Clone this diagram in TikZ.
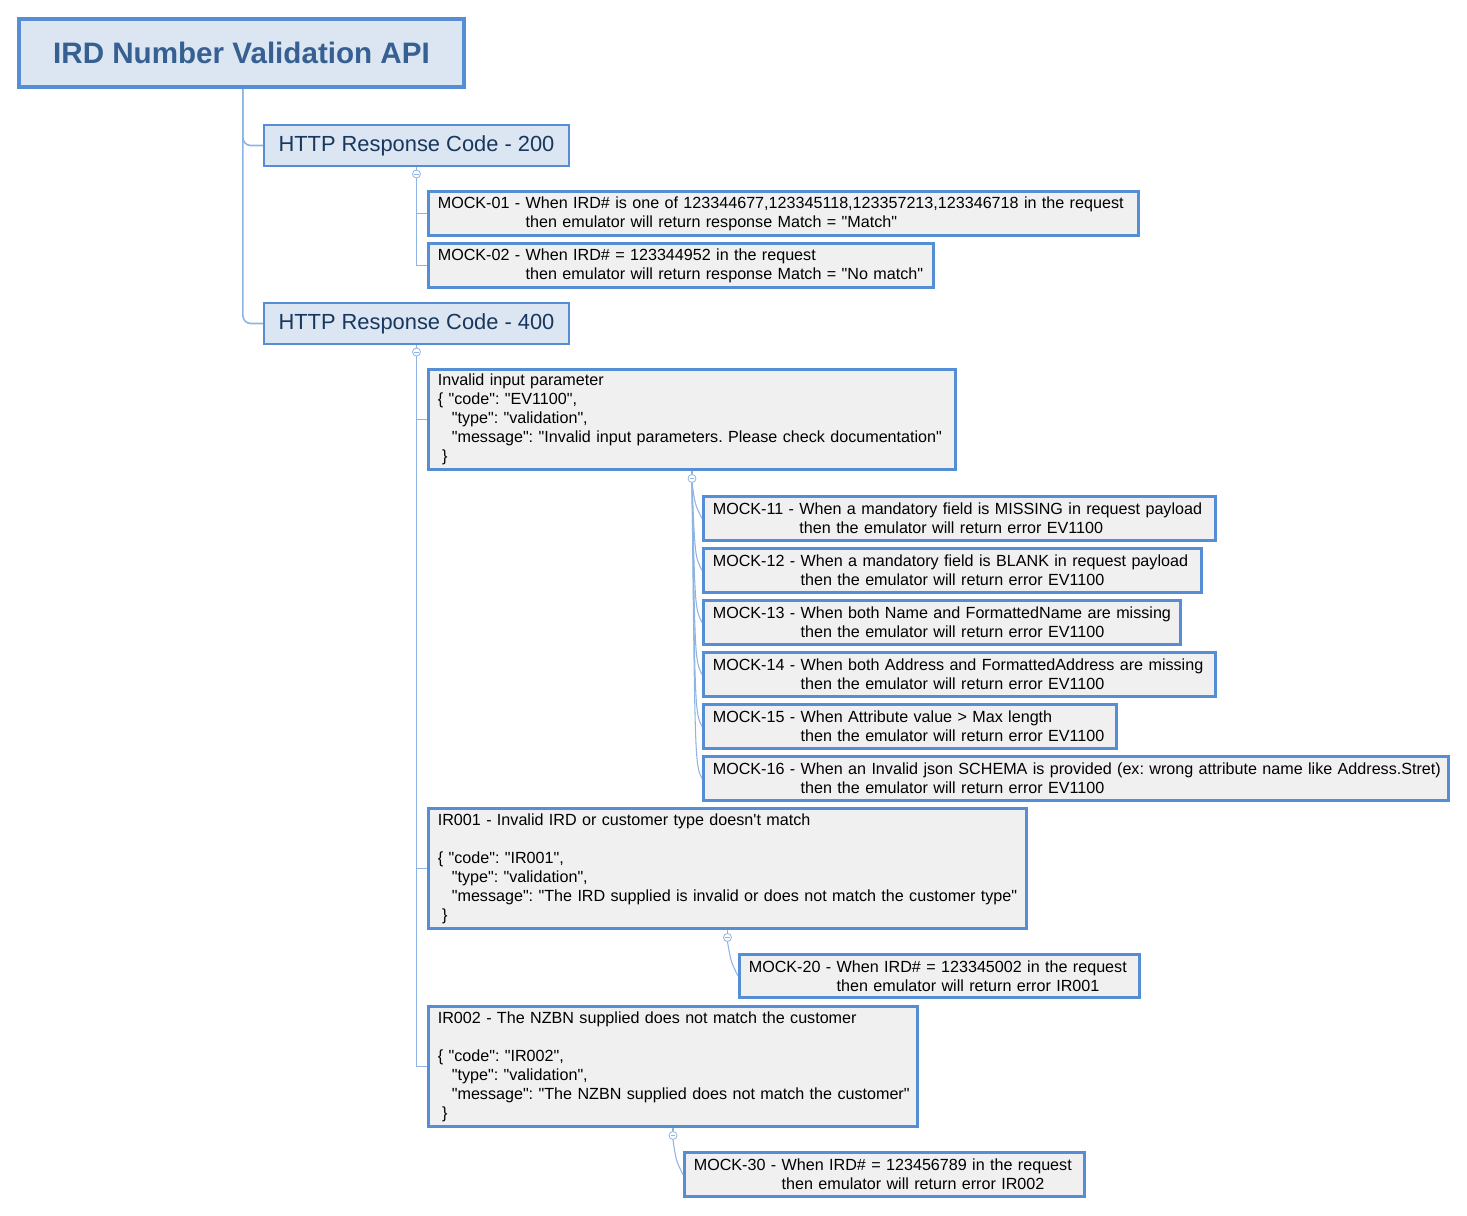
\documentclass[tikz,border=0pt]{standalone}
\usepackage{fontspec}
\setmainfont{Liberation Sans}[Ligatures=TeXOff]
\usetikzlibrary{calc}
\definecolor{bordc}{RGB}{85,142,213}
\definecolor{fillm}{RGB}{240,240,240}
\definecolor{fillh}{RGB}{220,230,242}
\definecolor{connc}{RGB}{141,180,226}
\definecolor{roottxt}{RGB}{54,96,146}
\definecolor{httptxt}{RGB}{23,55,94}
\newcommand\ind{\phantom}
\frenchspacing
\tikzset{
  mockbox/.style={draw=bordc, fill=fillm, line width=2.25pt, inner xsep=7pt, inner ysep=2pt,
    align=left, font=\fontsize{12.1pt}{14.25pt}\selectfont\frenchspacing, text=black},
  httpbox/.style={draw=bordc, fill=fillh, line width=1.5pt, minimum width=228.75pt,
    minimum height=30.75pt, inner sep=0pt, font=\fontsize{16.4pt}{19pt}\selectfont, text=httptxt},
  rootbox/.style={draw=bordc, fill=fillh, line width=3pt, minimum width=333.75pt,
    minimum height=51pt, inner sep=0pt, font=\fontsize{22.2pt}{26pt}\selectfont\bfseries, text=roottxt},
  conn/.style={draw=connc, line width=1pt},
  collapse/.style={circle, draw=connc, fill=white, line width=0.6pt, minimum size=6pt, inner sep=0pt,
    path picture={\draw[connc, line width=0.6pt]
      ([xshift=-1.6pt]path picture bounding box.center) -- ([xshift=1.6pt]path picture bounding box.center);}},
}
\begin{document}
\begin{tikzpicture}[x=0.75pt, y=-0.75pt]
\useasboundingbox (0,0) rectangle (1467,1215);

% nodes
\node[rootbox] (root) at (241.5,53) {IRD Number Validation API};
\node[httpbox] (h200) at (416.5,145.5) {HTTP Response Code - 200};
\node[httpbox] (h400) at (416.5,323.5) {HTTP Response Code - 400};

\node[mockbox, text width=518.5pt, minimum height=33pt] (m01) at (783.5,213.5)
  {\mbox{MOCK-01 - When IRD\# is one of 123344677,123345118,123357213,123346718 in the request}\\
   \mbox{\ind{MOCK-01 - }then emulator will return response Match = "Match"}};
\node[mockbox, text width=364.75pt, minimum height=33pt] (m02) at (681,265.5)
  {\mbox{MOCK-02 - When IRD\# = 123344952 in the request}\\
   \mbox{\ind{MOCK-02 - }then emulator will return response Match = "No match"}};

\node[mockbox, text width=381.25pt, minimum height=75pt] (inv) at (692,419.5)
  {\mbox{Invalid input parameter}\\
   \mbox{\{ "code": "EV1100",}\\
   \mbox{\hspace*{10.5pt}"type": "validation",}\\
   \mbox{\hspace*{10.5pt}"message": "Invalid input parameters. Please check documentation"}\\
   \mbox{\hspace*{3.3pt}\}}};

\node[mockbox, text width=370pt, minimum height=33pt] (m11) at (959.5,518.5)
  {\mbox{MOCK-11 - When a mandatory field is MISSING in request payload}\\
   \mbox{\ind{MOCK-11 - }then the emulator will return error EV1100}};
\node[mockbox, text width=359.5pt, minimum height=33pt] (m12) at (952.5,570.5)
  {\mbox{MOCK-12 - When a mandatory field is BLANK in request payload}\\
   \mbox{\ind{MOCK-12 - }then the emulator will return error EV1100}};
\node[mockbox, text width=343.75pt, minimum height=33pt] (m13) at (942,622.5)
  {\mbox{MOCK-13 - When both Name and FormattedName are missing}\\
   \mbox{\ind{MOCK-13 - }then the emulator will return error EV1100}};
\node[mockbox, text width=370pt, minimum height=33pt] (m14) at (959.5,674.5)
  {\mbox{MOCK-14 - When both Address and FormattedAddress are missing}\\
   \mbox{\ind{MOCK-14 - }then the emulator will return error EV1100}};
\node[mockbox, text width=295.75pt, minimum height=33pt] (m15) at (910,726.5)
  {\mbox{MOCK-15 - When Attribute value > Max length}\\
   \mbox{\ind{MOCK-15 - }then the emulator will return error EV1100}};
\node[mockbox, text width=544.75pt, minimum height=33pt] (m16) at (1076,778.5)
  {\mbox{MOCK-16 - When an Invalid json SCHEMA is provided (ex: wrong attribute name like Address.Stret)}\\
   \mbox{\ind{MOCK-16 - }then the emulator will return error EV1100}};

\node[mockbox, text width=434.5pt, minimum height=90pt] (ir1) at (727.5,868.5)
  {\mbox{IR001 - Invalid IRD or customer type doesn't match}\\
   \mbox{}\\
   \mbox{\{ "code": "IR001",}\\
   \mbox{\hspace*{10.5pt}"type": "validation",}\\
   \mbox{\hspace*{10.5pt}"message": "The IRD supplied is invalid or does not match the customer type"}\\
   \mbox{\hspace*{3.3pt}\}}};
\node[mockbox, text width=286pt, minimum height=32.25pt] (m20) at (939.5,976)
  {\mbox{MOCK-20 - When IRD\# = 123345002 in the request}\\
   \mbox{\ind{MOCK-20 - }then emulator will return error IR001}};

\node[mockbox, text width=352.75pt, minimum height=90pt] (ir2) at (673,1066.5)
  {\mbox{IR002 - The NZBN supplied does not match the customer}\\
   \mbox{}\\
   \mbox{\{ "code": "IR002",}\\
   \mbox{\hspace*{10.5pt}"type": "validation",}\\
   \mbox{\hspace*{10.5pt}"message": "The NZBN supplied does not match the customer"}\\
   \mbox{\hspace*{3.3pt}\}}};
\node[mockbox, text width=286pt, minimum height=33pt] (m30) at (884.5,1174.5)
  {\mbox{MOCK-30 - When IRD\# = 123456789 in the request}\\
   \mbox{\ind{MOCK-30 - }then emulator will return error IR002}};

% collapse markers
\node[collapse] (c200) at ([yshift=-5.25pt]h200.south) {};
\node[collapse] (c400) at ([yshift=-5.25pt]h400.south) {};
\node[collapse] (cinv) at ([yshift=-5.6pt]inv.south) {};
\node[collapse] (cir1) at ([yshift=-5.6pt]ir1.south) {};
\node[collapse] (cir2) at ([yshift=-5.6pt]ir2.south) {};

% connectors
\draw[conn, line width=1.2pt, rounded corners=6pt] ([xshift=1pt]root.south) |- (h200.west);
\draw[conn, line width=1.2pt, rounded corners=6pt] ([xshift=1pt]root.south) |- (h400.west);
\draw[conn] (h200.south) -- (c200.north);
\draw[conn] (h400.south) -- (c400.north);
\draw[conn] (inv.south) -- (cinv.north);
\draw[conn] (ir1.south) -- (cir1.north);
\draw[conn] (ir2.south) -- (cir2.north);
\draw[conn] (c200.south) |- (m01.west);
\draw[conn] (c200.south) |- (m02.west);
\draw[conn] (c400.south) |- (inv.west);
\draw[conn] (c400.south) |- (ir1.west);
\draw[conn] (c400.south) |- (ir2.west);
\foreach \t in {m11,m12,m13,m14,m15,m16}
  \draw[conn, line width=0.8pt] (cinv.south) .. controls ($(\t.west)+(-7,-14)$) .. (\t.west);
\draw[conn, line width=0.8pt] (cir1.south) .. controls ($(m20.west)+(-7,-14)$) .. (m20.west);
\draw[conn, line width=0.8pt] (cir2.south) .. controls ($(m30.west)+(-7,-14)$) .. (m30.west);
\end{tikzpicture}
\end{document}
